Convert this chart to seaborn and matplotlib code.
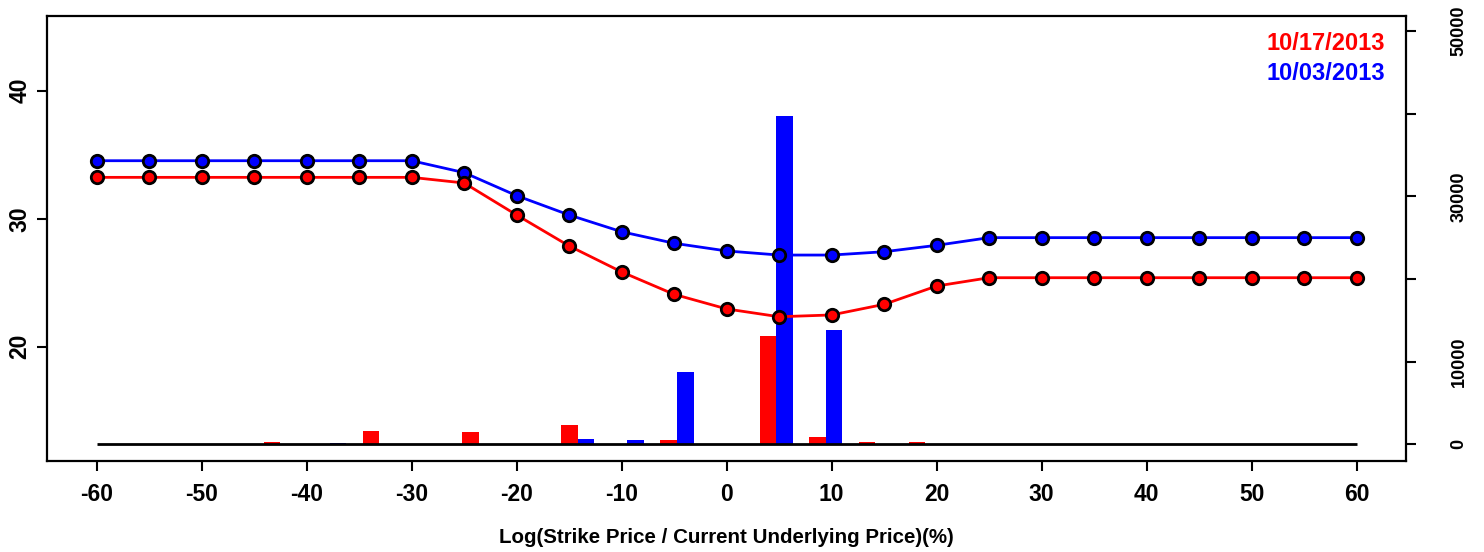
import numpy as np
import pandas as pd
import matplotlib
matplotlib.use("Agg")
import matplotlib.pyplot as plt
import seaborn as sns
from matplotlib.transforms import blended_transform_factory

# ---------------- data ----------------
strikes = [-60, -55, -50, -45, -40, -35, -30, -25, -20, -15, -10, -5, 0,
           5, 10, 15, 20, 25, 30, 35, 40, 45, 50, 55, 60]
date_a = "10/17/2013"
date_b = "10/03/2013"
iv_a = [33.23, 33.23, 33.23, 33.23, 33.23, 33.23, 33.23, 32.79, 30.29, 27.87,
        25.84, 24.09, 22.95, 22.34, 22.48, 23.31, 24.74, 25.39, 25.39, 25.39,
        25.39, 25.39, 25.39, 25.39, 25.39]
iv_b = [34.53, 34.53, 34.53, 34.53, 34.53, 34.53, 34.53, 33.60, 31.80, 30.29,
        28.98, 28.08, 27.48, 27.16, 27.16, 27.42, 27.92, 28.52, 28.52, 28.52,
        28.52, 28.52, 28.52, 28.52, 28.52]
vol_a = [0, 0, 0, 330, 0, 1660, 0, 1540, 0, 2380, 80, 570, 0,
         13070, 930, 330, 330, 0, 0, 0, 0, 0, 0, 0, 0]
vol_b = [0, 0, 0, 0, 200, 0, 60, 0, 60, 690, 570, 8800, 0,
         39770, 13880, 0, 60, 0, 0, 0, 0, 0, 0, 0, 0]
x_ticks = [-60, -50, -40, -30, -20, -10, 0, 10, 20, 30, 40, 50, 60]
left_ticks = [20, 30, 40]
right_ticks = [0, 10000, 20000, 30000, 40000, 50000]
right_labels = ["0", "10000", "", "30000", "", "50000"]
x_label = "Log(Strike Price / Current Underlying Price)(%)"

RED = "#FF0000"
BLUE = "#0000FF"

# ---------------- style ----------------
sns.set_style("ticks")
plt.rcParams["font.family"] = ["Liberation Sans", "DejaVu Sans"]
plt.rcParams["font.weight"] = "bold"
for k in ("text.color", "axes.labelcolor", "xtick.color", "ytick.color",
          "axes.edgecolor"):
    plt.rcParams[k] = "black"

fig = plt.figure(figsize=(14.84, 5.52), dpi=100)
rect = [0.03187, 0.16486, 0.91557, 0.8067]

# bars axis (below)
ax_bar = fig.add_axes(rect)
# lines axis (on top)
ax = fig.add_axes(rect)
ax.patch.set_visible(False)

xlim = (-64.7, 64.7)
group_step = 4.725  # main-x units between consecutive bar groups
center_idx = strikes.index(0)

vol_df = pd.DataFrame({
    "strike": strikes * 2,
    "date": [date_a] * len(strikes) + [date_b] * len(strikes),
    "volume": vol_a + vol_b,
})
sns.barplot(data=vol_df, x="strike", y="volume", hue="date",
            order=strikes, hue_order=[date_a, date_b],
            palette=[RED, BLUE], width=2 / 3, saturation=1,
            errorbar=None, legend=False, linewidth=0, ax=ax_bar)
ax_bar.set_xlim(center_idx + xlim[0] / group_step,
                center_idx + xlim[1] / group_step)
ax_bar.set_ylim(-2020, 51850)
# baseline from -60 to 60 at volume 0
trans = blended_transform_factory(ax.transData, ax_bar.transData)
ax_bar.plot([strikes[0], strikes[-1]], [0, 0], color="black", lw=2,
            transform=trans, zorder=5, solid_capstyle="butt")
ax_bar.yaxis.tick_right()
ax_bar.set_yticks(right_ticks)
ax_bar.set_yticklabels(right_labels, rotation=90, va="center",
                       fontsize=13, fontweight="bold", color="black")
ax_bar.tick_params(axis="y", direction="out", length=7, width=1.5, pad=25,
                   right=True, left=False, colors="black")
ax_bar.tick_params(axis="x", bottom=False, labelbottom=False)
ax_bar.set_xlabel("")
ax_bar.set_ylabel("")
for sp in ax_bar.spines.values():
    sp.set_visible(False)

# lines
for iv, col in ((iv_b, BLUE), (iv_a, RED)):
    sns.lineplot(x=strikes, y=iv, color=col, lw=2, ax=ax, zorder=3)
    sns.scatterplot(x=strikes, y=iv, color=col, edgecolor="black", s=80,
                    linewidth=2, ax=ax, zorder=4)

ax.set_xlim(*xlim)
ax.set_ylim(11.07, 45.86)
ax.set_xticks(x_ticks)
ax.set_xticklabels([str(t) for t in x_ticks], fontsize=16.5,
                   fontweight="bold", color="black")
ax.set_yticks(left_ticks)
ax.set_yticklabels([str(t) for t in left_ticks], rotation=90, va="center",
                   fontsize=16.5, fontweight="bold", color="black")
ax.tick_params(axis="x", direction="out", length=7, width=1.5, pad=9,
               top=False, colors="black")
ax.tick_params(axis="y", direction="out", length=7, width=1.5, pad=4.5,
               right=False, colors="black")
for sp in ax.spines.values():
    sp.set_visible(True)
    sp.set_linewidth(1.6)
    sp.set_color("black")

ax.set_xlabel(x_label, fontsize=14.8, fontweight="bold", color="black")
ax.xaxis.set_label_coords(0.5, -0.1505)

ax.text(0.9846, 0.9376, date_a, color=RED, fontsize=17, fontweight="bold",
        ha="right", va="center", transform=ax.transAxes)
ax.text(0.9846, 0.8692, date_b, color=BLUE, fontsize=17, fontweight="bold",
        ha="right", va="center", transform=ax.transAxes)

fig.savefig("out.png", dpi=100)
